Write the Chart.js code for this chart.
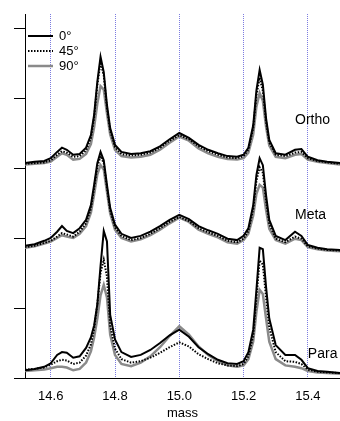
<!DOCTYPE html>
<html>
<head>
<meta charset="utf-8">
<script src="https://cdn.jsdelivr.net/npm/chart.js@4.4.1/dist/chart.umd.min.js"></script>
<style>
html, body { margin: 0; padding: 0; background: #fff; }
canvas { display: block; }
</style>
</head>
<body>
<canvas id="myChart" width="340" height="421"></canvas>
<script>
// mass axis sample points (shared by every trace)
const mass = [14.52, 14.55, 14.58, 14.60, 14.62, 14.635, 14.65, 14.67, 14.69, 14.71,
              14.725, 14.735, 14.745, 14.755, 14.765, 14.775, 14.785, 14.80, 14.82, 14.85,
              14.88, 14.91, 14.94, 14.97, 15.00, 15.03, 15.06, 15.09, 15.12, 15.15,
              15.18, 15.20, 15.215, 15.23, 15.24, 15.25, 15.26, 15.27, 15.28, 15.30,
              15.33, 15.36, 15.38, 15.40, 15.43, 15.46, 15.50];

const xTicks = [14.6, 14.8, 15.0, 15.2, 15.4];
const yTicks = [0, 1, 2, 3, 4, 5];
const angles = ["0°", "45°", "90°"];
const groups = ["Ortho", "Meta", "Para"];

// offset traces
const ortho0 = [3.07,3.09,3.10,3.14,3.23,3.29,3.26,3.19,3.20,3.29, 3.47,3.76,4.23,4.59,4.37,3.90,3.57,3.33,3.23,3.20,
                3.21,3.24,3.31,3.41,3.50,3.43,3.33,3.26,3.21,3.17, 3.16,3.19,3.29,3.61,4.11,4.40,4.19,3.71,3.40,3.21,
                3.19,3.26,3.27,3.16,3.11,3.09,3.07];
const ortho45 = [3.06,3.07,3.08,3.11,3.19,3.24,3.22,3.16,3.17,3.25, 3.43,3.72,4.18,4.51,4.32,3.86,3.53,3.30,3.20,3.18,
                 3.19,3.22,3.29,3.39,3.47,3.41,3.31,3.24,3.19,3.15, 3.14,3.17,3.26,3.57,4.04,4.29,4.10,3.66,3.36,3.19,
                 3.17,3.22,3.23,3.14,3.10,3.08,3.06];
const ortho90 = [3.05,3.06,3.07,3.09,3.16,3.21,3.19,3.12,3.13,3.20, 3.34,3.58,3.92,4.17,4.12,3.78,3.48,3.26,3.17,3.15,
                 3.16,3.19,3.26,3.36,3.45,3.39,3.28,3.21,3.16,3.13, 3.12,3.14,3.22,3.48,3.88,4.07,3.96,3.59,3.32,3.16,
                 3.14,3.19,3.20,3.12,3.09,3.07,3.05];

const meta0 = [1.89,1.91,1.96,2.00,2.09,2.17,2.10,2.07,2.14,2.26, 2.47,2.76,3.07,3.23,3.11,2.76,2.43,2.19,2.06,2.00,
               2.03,2.09,2.17,2.26,2.33,2.27,2.17,2.11,2.06,1.99, 1.97,2.03,2.14,2.47,2.90,3.14,3.04,2.61,2.26,2.03,
               1.97,2.09,2.03,1.90,1.86,1.84,1.83];
const meta45 = [1.87,1.89,1.93,1.96,2.02,2.07,2.05,2.02,2.09,2.21, 2.42,2.71,3.02,3.17,3.07,2.72,2.39,2.15,2.03,1.97,
                2.00,2.06,2.14,2.23,2.30,2.24,2.14,2.08,2.03,1.96, 1.94,1.99,2.10,2.41,2.82,3.01,2.93,2.53,2.20,1.99,
                1.94,2.02,1.99,1.88,1.85,1.83,1.82];
const meta90 = [1.86,1.88,1.92,1.95,2.00,2.04,2.02,2.00,2.06,2.17, 2.36,2.62,2.91,3.04,2.98,2.66,2.35,2.12,2.00,1.95,
                1.98,2.04,2.12,2.21,2.29,2.23,2.12,2.06,2.01,1.94, 1.92,1.97,2.06,2.32,2.63,2.76,2.72,2.40,2.13,1.97,
                1.92,1.99,1.97,1.87,1.84,1.82,1.81];

const para0 = [0.11,0.13,0.16,0.21,0.33,0.37,0.36,0.29,0.31,0.43, 0.58,0.75,1.05,1.60,2.10,1.95,0.90,0.55,0.37,0.30,
               0.33,0.40,0.50,0.61,0.69,0.59,0.44,0.34,0.26,0.21, 0.20,0.24,0.37,0.69,1.26,1.86,1.84,1.30,0.85,0.47,
               0.33,0.33,0.26,0.14,0.10,0.09,0.07];
const para45 = [0.12,0.13,0.15,0.19,0.24,0.26,0.25,0.20,0.22,0.32, 0.48,0.70,1.05,1.50,1.69,1.45,0.75,0.42,0.27,0.22,
                0.24,0.29,0.36,0.44,0.51,0.45,0.34,0.27,0.21,0.18, 0.17,0.20,0.31,0.60,1.15,1.68,1.62,1.15,0.72,0.37,
                0.24,0.23,0.20,0.12,0.09,0.08,0.07];
const para90 = [0.10,0.11,0.12,0.14,0.16,0.16,0.15,0.11,0.13,0.22, 0.38,0.58,0.85,1.18,1.33,1.15,0.62,0.33,0.20,0.17,
                0.22,0.31,0.44,0.60,0.74,0.62,0.45,0.33,0.24,0.18, 0.16,0.18,0.27,0.52,0.95,1.26,1.20,0.85,0.52,0.27,
                0.18,0.16,0.14,0.10,0.08,0.07,0.06];

const traces = [
    [ortho0, meta0, para0],
    [ortho45, meta45, para45],
    [ortho90, meta90, para90]
];

const styles = [
    {color: "#000000", dash: [], width: 2},
    {color: "#000000", dash: [1.5, 1.5], width: 2},
    {color: "#8a8a8a", dash: [], width: 2.5}
];

const FONT = "'Liberation Sans', Arial, sans-serif";

// first datasets end up on top, so 0° is pushed first
const datasets = [];
traces.forEach((row, a) => {
    row.forEach((vals, g) => {
        datasets.push({
            label: groups[g] + " " + angles[a],
            data: mass.map((m, i) => ({x: m, y: vals[i]})),
            borderColor: styles[a].color,
            borderDash: styles[a].dash,
            borderWidth: styles[a].width,
            pointRadius: 0,
            tension: 0,
            fill: false
        });
    });
});

const labelsPlugin = {
    id: "labelsPlugin",
    afterDatasetsDraw(chart) {
        const {ctx, chartArea, scales} = chart;
        ctx.save();
        // legend
        ctx.font = "13px " + FONT;
        ctx.fillStyle = "#000";
        ctx.textBaseline = "middle";
        angles.forEach((t, i) => {
            const y = chartArea.top + 22 + i * 15;
            ctx.beginPath();
            ctx.strokeStyle = styles[i].color;
            ctx.lineWidth = styles[i].width;
            ctx.setLineDash(styles[i].dash);
            ctx.moveTo(chartArea.left + 3, y);
            ctx.lineTo(chartArea.left + 28, y);
            ctx.stroke();
            ctx.fillText(t, chartArea.left + 34, y);
        });
        ctx.setLineDash([]);
        // group names
        ctx.font = "14px " + FONT;
        const spots = [[15.36, 3.69], [15.36, 2.33], [15.40, 0.34]];
        groups.forEach((g, i) => {
            ctx.fillText(g, scales.x.getPixelForValue(spots[i][0]), scales.y.getPixelForValue(spots[i][1]));
        });
        ctx.restore();
    }
};

new Chart(document.getElementById("myChart"), {
    type: "line",
    data: {datasets: datasets},
    plugins: [labelsPlugin],
    options: {
        responsive: false,
        animation: false,
        devicePixelRatio: 1,
        layout: {padding: {top: 14, left: 0, right: 0, bottom: 0}},
        plugins: {legend: {display: false}, tooltip: {enabled: false}},
        scales: {
            x: {
                type: "linear",
                min: 14.52,
                max: 15.5,
                afterBuildTicks: (s) => { s.ticks = xTicks.map(v => ({value: v})); },
                afterFit: (s) => { s.height = 43; },
                ticks: {
                    callback: (v) => v.toFixed(1),
                    color: "#000",
                    padding: 11,
                    maxRotation: 0,
                    font: {family: FONT, size: 13}
                },
                grid: {color: "#7c7ce0", lineWidth: 1, drawTicks: false},
                border: {color: "#000", width: 1, dash: [1, 1]},
                title: {display: true, text: "mass", color: "#000", padding: {top: 0, bottom: 0}, font: {family: FONT, size: 13}}
            },
            y: {
                type: "linear",
                min: 0,
                max: 5.2,
                afterBuildTicks: (s) => { s.ticks = yTicks.map(v => ({value: v})); },
                afterFit: (s) => { s.width = 25; },
                ticks: {display: false},
                grid: {drawOnChartArea: false, drawTicks: true, tickLength: 11, tickColor: "#000", tickWidth: 1},
                border: {color: "#000", width: 1}
            }
        }
    }
});
</script>
</body>
</html>
